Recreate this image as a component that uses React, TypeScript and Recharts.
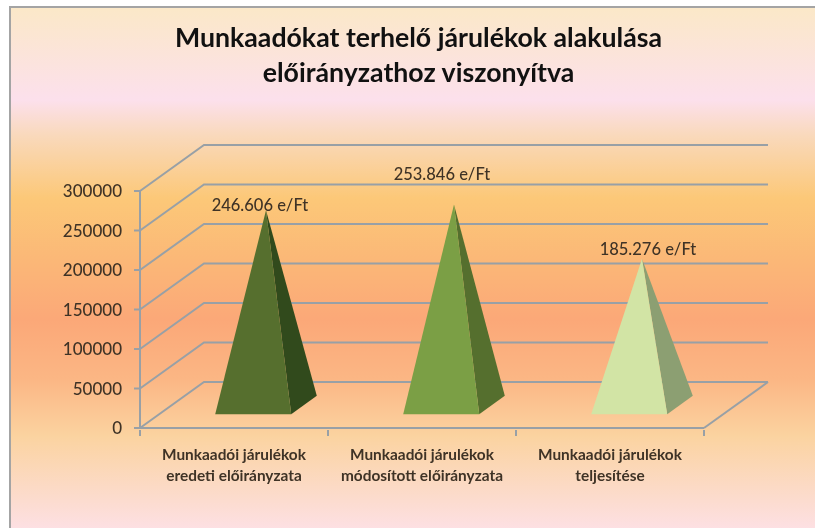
import { BarChart, Bar, XAxis, YAxis, CartesianGrid, LabelList } from "recharts";

const categories = [
  "Munkaadói járulékok\neredeti előirányzata",
  "Munkaadói járulékok\nmódosított előirányzata",
  "Munkaadói járulékok\nteljesítése",
];
const values = [246606, 253846, 185276];
const valueLabels = ["246.606 e/Ft", "253.846 e/Ft", "185.276 e/Ft"];
const yTicks = [0, 50000, 100000, 150000, 200000, 250000, 300000];

const frontColors = ["#566f2e", "#7b9f45", "#d2e4a5"];
const sideColors = ["#314a1c", "#556f2e", "#8c9f72"];
// data labels were dragged by hand in the original
const labelNudge = [
  { dx: -6, dy: 1 },
  { dx: -12, dy: -24 },
  { dx: 6, dy: -4 },
];

const chartData = categories.map((name, i) => ({ name, value: values[i] }));

// fake 3d: how far the back wall sits from the front plane
const DEPTH_X = 64;
const DEPTH_Y = 46;
const BASE_NEAR = 0.3;
const BASE_FAR = 0.7;
const GRID = "#98a0a6";
const TEXT = "#3f3326";
const FONT = "Lato, 'Open Sans', sans-serif";

const Pyramid = (props: any) => {
  const { x, y, width, height, index } = props;
  const floor = y + height;
  const nx = x + DEPTH_X * BASE_NEAR;
  const ny = floor - DEPTH_Y * BASE_NEAR;
  const fx = x + width + DEPTH_X * BASE_FAR;
  const fy = floor - DEPTH_Y * BASE_FAR;
  const ax = x + width / 2 + DEPTH_X / 2;
  const ay = y - DEPTH_Y / 2;
  return (
    <g>
      <polygon
        points={`${nx + width},${ny} ${fx},${fy} ${ax},${ay}`}
        fill={sideColors[index]}
      />
      <polygon
        points={`${nx},${ny} ${nx + width},${ny} ${ax},${ay}`}
        fill={frontColors[index]}
      />
    </g>
  );
};

const WallLine = (props: any) => {
  const { x1, x2, y1, index } = props;
  const bx = x1 + DEPTH_X;
  const by = y1 - DEPTH_Y;
  return (
    <g>
      <polyline
        points={`${x1},${y1} ${bx},${by} ${x2 + DEPTH_X},${by}`}
        fill="none"
        stroke={GRID}
        strokeWidth={2}
      />
      {index === 0 && (
        <line x1={x2} y1={y1} x2={x2 + DEPTH_X} y2={by} stroke={GRID} strokeWidth={2} />
      )}
    </g>
  );
};

const CategoryTick = (props: any) => {
  const { x, y, payload } = props;
  const half = payload.offset;
  const lines = String(payload.value).split("\n");
  return (
    <g>
      <line x1={x - half} y1={y - 6} x2={x - half} y2={y} stroke={GRID} strokeWidth={2} />
      <line x1={x + half} y1={y - 6} x2={x + half} y2={y} stroke={GRID} strokeWidth={2} />
      {lines.map((line, i) => (
        <text
          key={i}
          x={x}
          y={y + 24 + i * 21}
          textAnchor="middle"
          fontFamily={FONT}
          fontSize={15.4}
          fontWeight={700}
          fill={TEXT}
        >
          {line}
        </text>
      ))}
    </g>
  );
};

const ValueLabel = (props: any) => {
  const { x, y, width, index } = props;
  const nudge = labelNudge[index];
  return (
    <text
      x={x + width / 2 + DEPTH_X / 2 + nudge.dx}
      y={y - DEPTH_Y / 2 + nudge.dy}
      textAnchor="middle"
      fontFamily={FONT}
      fontSize={16.5}
      fontWeight={500}
      fill={TEXT}
    >
      {valueLabels[index]}
    </text>
  );
};

export default function App() {
  return (
    <div style={{ position: "absolute", left: 0, top: 0, width: 815, height: 528, background: "#fff", overflow: "hidden", filter: "blur(0.5px)" }}>
      <div
        style={{
          position: "absolute",
          left: 9,
          top: 6,
          width: 806,
          height: 522,
          borderLeft: "2px solid #a4a4a4",
          borderTop: "2px solid #a4a4a4",
          background:
            "linear-gradient(180deg, #fbe8c8 0px, #fce0ec 92px, #f9d9bc 127px, #fcc878 190px, #fbb877 250px, #fba878 312px, #fbb684 370px, #fbd3a0 428px, #fcdcd0 494px, #fde0e4 522px)",
        }}
      />
      <div
        style={{
          position: "absolute",
          left: 0,
          width: 837,
          top: 20,
          textAlign: "center",
          fontFamily: FONT,
          fontSize: 26.7,
          fontWeight: 700,
          lineHeight: "35px",
          color: "#111",
        }}
      >
        Munkaadókat terhelő járulékok alakulása
        <br />
        előirányzathoz viszonyítva
      </div>
      <div style={{ position: "absolute", left: 0, top: 0 }}>
        <BarChart
          width={815}
          height={528}
          data={chartData}
          margin={{ top: 191, right: 111, bottom: 0, left: 0 }}
          barSize={76}
        >
          <CartesianGrid vertical={false} horizontal={(p: any) => <WallLine key={p.key} {...p} />} />
          <XAxis
            dataKey="name"
            interval={0}
            height={100}
            stroke={GRID}
            strokeWidth={2}
            tickLine={false}
            tick={<CategoryTick />}
          />
          <YAxis
            width={140}
            domain={[0, 300000]}
            ticks={yTicks}
            interval={0}
            stroke={GRID}
            strokeWidth={2}
            tickSize={6}
            tickMargin={12}
            tick={{ fill: TEXT, fontFamily: FONT, fontSize: 17, fontWeight: 500 }}
          />
          <Bar dataKey="value" shape={<Pyramid />} isAnimationActive={false}>
            <LabelList dataKey="value" content={<ValueLabel />} />
          </Bar>
        </BarChart>
      </div>
    </div>
  );
}
